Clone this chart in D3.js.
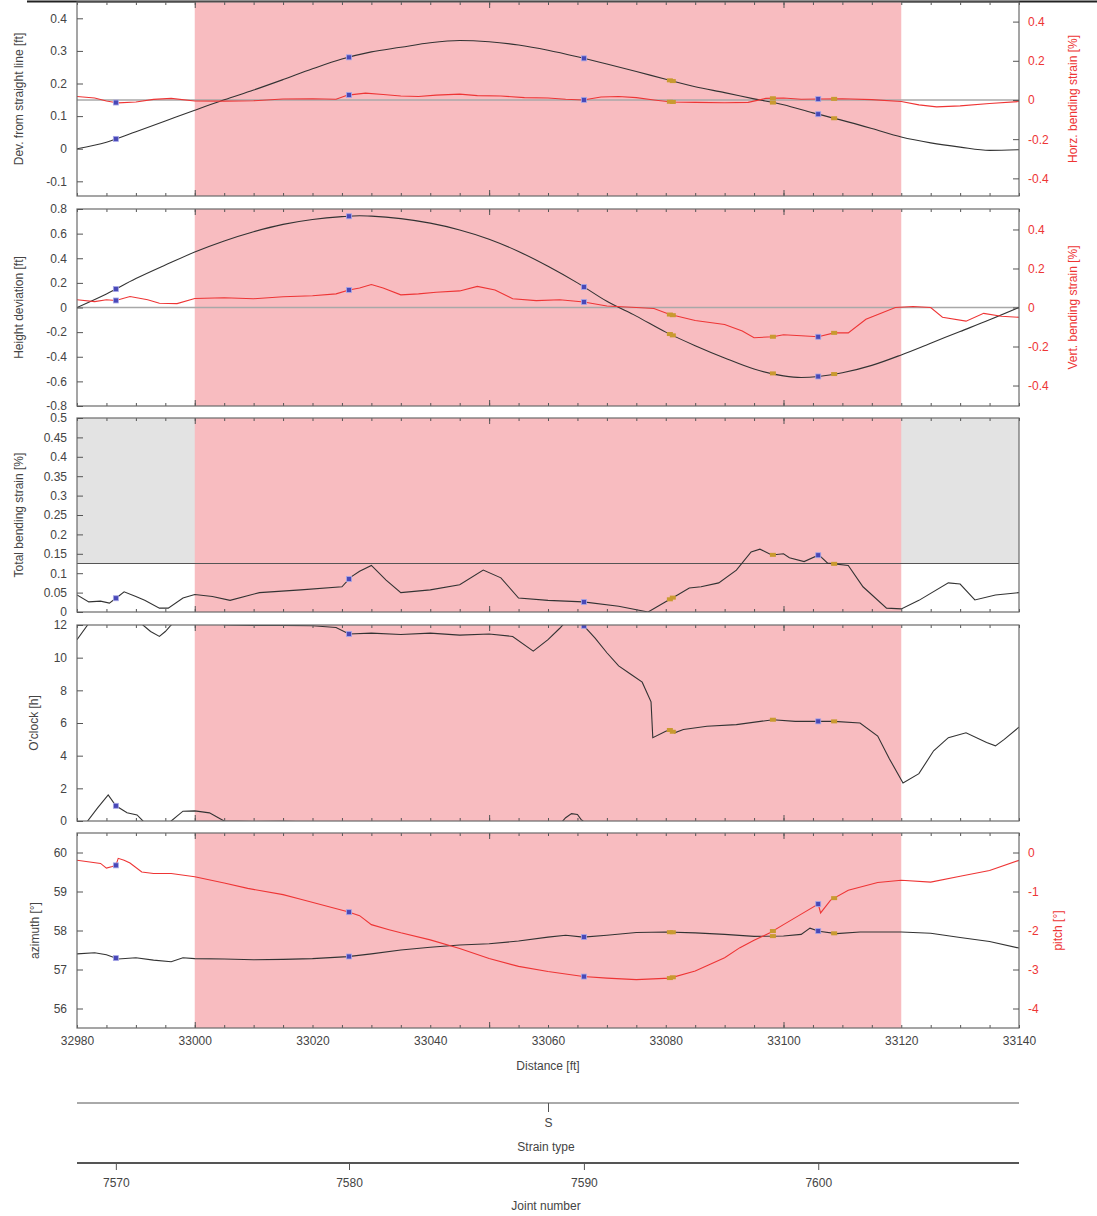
<html lang="en">
<head>
<style>
  body { margin: 0; background: #fff; }
  text { font-family: "Liberation Sans", Arial, sans-serif; font-size: 12px; fill: #444; }
</style>
</head>
<body>
<script src="https://d3js.org/d3.v7.min.js"></script>
<script>
// distance range and the marked zone
var distRange = [32980, 33140];
var zone = [33000, 33120];
var distTicks = [32980, 33000, 33020, 33040, 33060, 33080, 33100, 33120, 33140];

// joints, features, strain type
var jointNumbers = [7570, 7580, 7590, 7600];
var jointDist = [32986.6, 33026.2, 33066.1, 33105.9];
var featureDist = [33080.7, 33081.2, 33098.2, 33108.6];
var strainTypes = ["S"];
var strainDist = [33060];
var strainLimit = 0.125;

// panel 1: deviation from straight line [ft] and horizontal bending strain [%]
var devLine = [[32980,0],[32985,0.02],[32990,0.052],[32995,0.085],[33000,0.118],[33005,0.15],[33010,0.18],
  [33015,0.212],[33020,0.245],[33025,0.275],[33030,0.297],[33035,0.311],[33040,0.325],[33045,0.332],
  [33050,0.328],[33055,0.318],[33060,0.302],[33065,0.282],[33070,0.26],[33075,0.237],[33080,0.213],
  [33085,0.19],[33090,0.172],[33095,0.153],[33100,0.135],[33105,0.11],[33110,0.087],[33115,0.062],
  [33120,0.036],[33125,0.018],[33130,0.005],[33135,-0.005],[33140,-0.003]];
var horzStrain = [[32980,0.018],[32983,0.01],[32985,-0.005],[32987,-0.015],[32990,-0.01],[32993,0.003],
  [32996,0.008],[33000,-0.005],[33005,-0.006],[33010,-0.004],[33015,0.005],[33020,0.006],[33024,0.004],
  [33026,0.025],[33029,0.035],[33032,0.028],[33035,0.02],[33038,0.018],[33041,0.025],[33045,0.03],
  [33048,0.022],[33052,0.02],[33056,0.012],[33060,0.01],[33063,0.004],[33066,0.0],[33069,0.015],
  [33072,0.018],[33075,0.012],[33078,0.0],[33081,-0.01],[33085,-0.012],[33090,-0.014],[33094,-0.012],
  [33097,0.008],[33100,0.01],[33103,0.004],[33106,0.005],[33110,0.006],[33115,0.002],[33120,-0.008],
  [33123,-0.025],[33126,-0.035],[33130,-0.03],[33135,-0.018],[33140,-0.008]];

// panel 2: height deviation [ft] and vertical bending strain [%]
var heightDev = [[32980,0],[32985,0.11],[32990,0.235],[32995,0.345],[33000,0.45],[33005,0.54],[33010,0.615],
  [33015,0.675],[33020,0.715],[33025,0.738],[33028,0.745],[33030,0.742],[33035,0.722],[33040,0.685],
  [33045,0.63],[33050,0.555],[33055,0.455],[33060,0.335],[33065,0.2],[33070,0.05],[33075,-0.07],
  [33080,-0.2],[33085,-0.31],[33090,-0.41],[33095,-0.5],[33100,-0.555],[33103,-0.568],[33106,-0.56],
  [33110,-0.53],[33115,-0.47],[33120,-0.385],[33125,-0.29],[33130,-0.195],[33135,-0.1],[33140,0]];
var vertStrain = [[32980,0.04],[32983,0.03],[32985,0.04],[32986.6,0.036],[32989,0.056],[32992,0.04],
  [32994,0.022],[32997,0.02],[33000,0.046],[33005,0.05],[33010,0.045],[33015,0.055],[33020,0.06],
  [33024,0.07],[33026.2,0.09],[33028,0.1],[33030,0.118],[33032,0.1],[33035,0.065],[33038,0.07],
  [33041,0.078],[33045,0.085],[33048,0.108],[33051,0.09],[33054,0.045],[33058,0.035],[33062,0.04],
  [33066.1,0.028],[33070,0.008],[33075,0.0],[33078,-0.005],[33080.7,-0.036],[33082,-0.045],[33085,-0.067],
  [33090,-0.087],[33093,-0.12],[33095,-0.155],[33098.2,-0.15],[33100,-0.14],[33103,-0.145],
  [33105.9,-0.15],[33108.6,-0.13],[33111,-0.13],[33114,-0.06],[33119,0.0],[33122,0.005],[33125,0.0],
  [33127,-0.05],[33131,-0.07],[33134,-0.03],[33137,-0.045],[33140,-0.05]];

// panel 3: total bending strain [%]
var totalStrain = [[32980,0.044],[32982,0.026],[32984,0.028],[32985.5,0.023],[32987,0.04],[32988,0.052],
  [32990,0.04],[32991.5,0.03],[32994,0.01],[32995.5,0.01],[32998,0.036],[33000,0.045],[33003,0.04],
  [33006,0.03],[33011,0.05],[33018,0.057],[33025,0.065],[33026.5,0.09],[33028,0.105],[33030,0.12],
  [33032.5,0.082],[33035,0.05],[33040,0.057],[33045,0.07],[33049,0.108],[33052,0.088],[33055,0.036],
  [33060,0.03],[33066,0.026],[33072,0.015],[33077,0.0],[33080.5,0.031],[33082,0.044],[33084,0.062],
  [33086,0.065],[33089,0.075],[33092,0.108],[33094.5,0.155],[33096,0.162],[33098,0.147],[33100,0.15],
  [33101,0.14],[33103.5,0.13],[33106,0.147],[33107.5,0.126],[33111,0.12],[33113.5,0.065],[33117.5,0.01],
  [33120,0.008],[33123,0.03],[33128,0.075],[33130,0.072],[33132.5,0.031],[33136,0.044],[33140,0.05]];

// panel 4: o'clock [h], unwrapped (values past 12 wrap to the bottom)
var oclock = [[32980,11.1],[32981.8,12.0],[32983.5,12.8],[32985.3,13.6],[32986.6,12.93],[32988.5,12.5],
  [32990.2,12.37],[32991.2,12.0],[32992.5,11.6],[32994,11.3],[32995,11.6],[32996,12.0],[32998,12.6],
  [33000,12.62],[33002.5,12.5],[33004,12.2],[33005,12.0],[33010,11.97],[33015,11.98],[33020,11.95],
  [33024,11.85],[33026.2,11.45],[33030,11.5],[33035,11.42],[33040,11.5],[33045,11.38],[33050,11.45],
  [33054,11.3],[33057.5,10.4],[33060,11.1],[33062,11.8],[33063,12.2],[33064,12.45],[33065,12.4],
  [33065.6,12.1],[33066.1,11.95],[33068,11.2],[33070,10.3],[33072,9.5],[33074,9.0],[33076,8.5],
  [33077.5,7.3],[33077.8,5.1],[33080,5.5],[33080.7,5.57],[33081.5,5.4],[33083,5.6],[33087,5.8],
  [33092,5.9],[33098.2,6.2],[33102,6.1],[33105.9,6.1],[33108.6,6.1],[33113,6.0],[33116,5.2],
  [33118,3.8],[33120.3,2.33],[33123,2.9],[33125.5,4.3],[33128,5.1],[33131,5.4],[33134.5,4.8],
  [33136,4.6],[33137.5,5.0],[33140,5.75]];

// panel 5: azimuth [deg] and pitch [deg]
var azimuth = [[32980,57.4],[32983,57.43],[32985,57.38],[32987,57.27],[32990,57.3],[32993,57.24],
  [32996,57.2],[32998,57.3],[33000,57.28],[33005,57.27],[33010,57.25],[33015,57.26],[33020,57.28],
  [33026,57.33],[33030,57.4],[33035,57.5],[33040,57.57],[33045,57.63],[33050,57.66],[33055,57.73],
  [33060,57.83],[33063,57.88],[33066,57.83],[33070,57.88],[33075,57.95],[33080,57.96],[33085,57.94],
  [33090,57.9],[33095,57.85],[33100,57.86],[33103,57.9],[33104.5,58.06],[33106,57.98],[33109,57.92],
  [33113,57.96],[33120,57.96],[33125,57.93],[33130,57.82],[33135,57.72],[33140,57.55]];
var pitch = [[32980,-0.2],[32984,-0.28],[32985,-0.4],[32986,-0.36],[32986.6,-0.33],[32987,-0.15],
  [32988,-0.2],[32989,-0.27],[32991,-0.5],[32993,-0.54],[32996,-0.54],[33000,-0.62],[33005,-0.78],
  [33009,-0.92],[33015,-1.08],[33018,-1.2],[33022,-1.36],[33026,-1.52],[33028,-1.62],[33030,-1.85],
  [33033,-1.98],[33035,-2.06],[33040,-2.24],[33045,-2.46],[33050,-2.72],[33055,-2.92],[33060,-3.05],
  [33066,-3.18],[33070,-3.22],[33075,-3.26],[33080.7,-3.22],[33085,-3.04],[33090,-2.7],[33092.6,-2.44],
  [33095,-2.25],[33097.7,-2.06],[33100,-1.85],[33102.8,-1.6],[33105.9,-1.32],[33106.3,-1.55],
  [33108,-1.22],[33111,-0.97],[33116,-0.77],[33120,-0.71],[33125,-0.76],[33130,-0.61],[33135,-0.46],
  [33140,-0.2]];

var width = 1097, height = 1216;
var red = "#ee3535", black = "#333", pink = "#f8bcc0";
var x = d3.scaleLinear().domain(distRange).range([77, 1019]);

var svg = d3.select("body").append("svg").attr("width", width).attr("height", height);
var defs = svg.append("defs");

svg.append("line").attr("x1", 27).attr("x2", 1097).attr("y1", 1.5).attr("y2", 1.5)
  .attr("stroke", "#222").attr("stroke-width", 2);

function valueAt(series, d) {
  var i = d3.bisectLeft(series.map(function(p) { return p[0]; }), d);
  if (i <= 0) return series[0][1];
  if (i >= series.length) return series[series.length - 1][1];
  var a = series[i - 1], b = series[i];
  return a[1] + (b[1] - a[1]) * (d - a[0]) / (b[0] - a[0]);
}

function fmt(d) { return String(d); }

function addPanel(id, top, bottom, domL) {
  var p = {top: top, bottom: bottom};
  p.y = d3.scaleLinear().domain(domL).range([bottom, top]);
  defs.append("clipPath").attr("id", id).append("rect")
    .attr("x", x.range()[0]).attr("y", top).attr("width", x.range()[1] - x.range()[0]).attr("height", bottom - top);
  p.g = svg.append("g");
  p.plot = p.g.append("g").attr("clip-path", "url(#" + id + ")");
  p.back = p.plot.append("g");
  p.back.append("rect").attr("x", x(zone[0])).attr("width", x(zone[1]) - x(zone[0]))
    .attr("y", top).attr("height", bottom - top).attr("fill", pink);
  return p;
}

function drawLine(p, data, yScale, color, curve, offset) {
  offset = offset || 0;
  p.plot.append("path").datum(data)
    .attr("fill", "none").attr("stroke", color).attr("stroke-width", 1.1)
    .attr("d", d3.line().curve(curve || d3.curveLinear)
      .x(function(d) { return x(d[0]); })
      .y(function(d) { return yScale(d[1] + offset); }));
}

function drawMarkers(p, data, yScale, wrap) {
  var pts = jointDist.map(function(d) { return {d: d, kind: "j"}; })
    .concat(featureDist.map(function(d) { return {d: d, kind: "f"}; }));
  pts.forEach(function(m) {
    var v = valueAt(data, m.d);
    if (wrap) v = ((v % 12) + 12) % 12;
    if (m.kind === "j") {
      p.plot.append("rect").attr("x", x(m.d) - 2.5).attr("y", yScale(v) - 2.5)
        .attr("width", 5).attr("height", 5).attr("fill", "#4848b8").attr("stroke", "#a8a8e8").attr("stroke-width", 0.8);
    } else {
      p.plot.append("rect").attr("x", x(m.d) - 3).attr("y", yScale(v) - 2)
        .attr("width", 6).attr("height", 4).attr("fill", "#c99a30");
    }
  });
}

function finishPanel(p, ticksL, titleL, titleX, yR, ticksR, titleR, titleRX, bottomLabels) {
  var minor = d3.range(distRange[0], distRange[1] + 1, 5);
  var major = [33000, 33050, 33100];
  [[p.top, d3.axisTop], [p.bottom, d3.axisBottom]].forEach(function(a) {
    p.g.append("g").attr("transform", "translate(0," + a[0] + ")")
      .call(a[1](x).tickValues(minor).tickSize(-3).tickFormat(""))
      .call(function(s) { s.select(".domain").remove(); s.selectAll("line").attr("stroke", "#555"); });
    p.g.append("g").attr("transform", "translate(0," + a[0] + ")")
      .call(a[1](x).tickValues(major).tickSize(-6).tickFormat(""))
      .call(function(s) { s.select(".domain").remove(); s.selectAll("line").attr("stroke", "#555"); });
  });
  p.g.append("rect").attr("x", x.range()[0]).attr("y", p.top)
    .attr("width", x.range()[1] - x.range()[0]).attr("height", p.bottom - p.top)
    .attr("fill", "none").attr("stroke", "#6a6a6a").attr("stroke-width", 1.2);

  p.g.append("g").attr("transform", "translate(" + x.range()[0] + ",0)")
    .call(d3.axisLeft(p.y).tickValues(ticksL).tickSize(-6).tickPadding(10).tickFormat(fmt))
    .call(function(s) {
      s.select(".domain").remove();
      s.selectAll("line").attr("stroke", "#555");
      s.selectAll("text").attr("font-size", 12.5).style("fill", "#444").attr("font-family", null);
    });
  p.g.append("text").attr("transform", "translate(" + titleX + "," + (p.top + p.bottom) / 2 + ") rotate(-90)")
    .attr("text-anchor", "middle").attr("dy", "0.35em").text(titleL);

  if (yR) {
    p.g.append("g").attr("transform", "translate(" + x.range()[1] + ",0)")
      .call(d3.axisRight(yR).tickValues(ticksR).tickSize(-6).tickPadding(9).tickFormat(fmt))
      .call(function(s) {
        s.select(".domain").remove();
        s.selectAll("line").attr("stroke", "#555");
        s.selectAll("text").attr("font-size", 12.5).style("fill", red).attr("font-family", null);
      });
    p.g.append("text").attr("transform", "translate(" + titleRX + "," + (p.top + p.bottom) / 2 + ") rotate(-90)")
      .attr("text-anchor", "middle").attr("dy", "0.35em").style("fill", red).text(titleR);
  }
  if (bottomLabels) {
    p.g.append("g").attr("transform", "translate(0," + p.bottom + ")")
      .call(d3.axisBottom(x).tickValues(distTicks).tickSize(0).tickPadding(8).tickFormat(fmt))
      .call(function(s) {
        s.select(".domain").remove();
        s.selectAll("text").attr("font-size", 12.5).style("fill", "#444").attr("font-family", null);
      });
  }
}

// panel 1
var p1 = addPanel("c1", 2, 196, [-0.145, 0.45]);
var y1r = d3.scaleLinear().domain([-0.49, 0.5]).range([196, 2]);
p1.back.append("line").attr("x1", 77).attr("x2", 1019).attr("y1", y1r(0)).attr("y2", y1r(0))
  .attr("stroke", "#a8a8a8").attr("stroke-width", 1.5);
drawLine(p1, devLine, p1.y, black, d3.curveMonotoneX);
drawLine(p1, horzStrain, y1r, red);
drawMarkers(p1, devLine, p1.y);
drawMarkers(p1, horzStrain, y1r);
finishPanel(p1, [-0.1, 0, 0.1, 0.2, 0.3, 0.4], "Dev. from straight line [ft]", 19,
  y1r, [-0.4, -0.2, 0, 0.2, 0.4], "Horz. bending strain [%]", 1073);

// panel 2
var p2 = addPanel("c2", 209, 406, [-0.8, 0.8]);
var y2r = d3.scaleLinear().domain([-0.505, 0.505]).range([406, 209]);
p2.back.append("line").attr("x1", 77).attr("x2", 1019).attr("y1", y2r(0)).attr("y2", y2r(0))
  .attr("stroke", "#a8a8a8").attr("stroke-width", 1.5);
drawLine(p2, heightDev, p2.y, black, d3.curveMonotoneX);
drawLine(p2, vertStrain, y2r, red);
drawMarkers(p2, heightDev, p2.y);
drawMarkers(p2, vertStrain, y2r);
finishPanel(p2, [-0.8, -0.6, -0.4, -0.2, 0, 0.2, 0.4, 0.6, 0.8], "Height deviation [ft]", 19,
  y2r, [-0.4, -0.2, 0, 0.2, 0.4], "Vert. bending strain [%]", 1073);

// panel 3
var p3 = addPanel("c3", 418, 612, [0, 0.5]);
p3.back.insert("rect", ":first-child").attr("x", 77).attr("width", 942)
  .attr("y", p3.y(0.5)).attr("height", p3.y(strainLimit) - p3.y(0.5)).attr("fill", "#e3e3e3");
p3.back.append("line").attr("x1", 77).attr("x2", 1019).attr("y1", p3.y(strainLimit)).attr("y2", p3.y(strainLimit))
  .attr("stroke", "#555").attr("stroke-width", 1);
drawLine(p3, totalStrain, p3.y, black);
drawMarkers(p3, totalStrain, p3.y);
finishPanel(p3, [0, 0.05, 0.1, 0.15, 0.2, 0.25, 0.3, 0.35, 0.4, 0.45, 0.5], "Total bending strain [%]", 19);

// panel 4 (wrapping clock values)
var p4 = addPanel("c4", 625, 821, [0, 12]);
[-12, 0, 12].forEach(function(off) { drawLine(p4, oclock, p4.y, black, null, off); });
drawMarkers(p4, oclock, p4.y, true);
finishPanel(p4, [0, 2, 4, 6, 8, 10, 12], "O'clock [h]", 34);

// panel 5
var p5 = addPanel("c5", 833, 1028, [55.5, 60.5]);
var y5r = d3.scaleLinear().domain([-4.5, 0.5]).range([1028, 833]);
drawLine(p5, azimuth, p5.y, black);
drawLine(p5, pitch, y5r, red);
drawMarkers(p5, azimuth, p5.y);
drawMarkers(p5, pitch, y5r);
finishPanel(p5, [56, 57, 58, 59, 60], "azimuth [°]", 35,
  y5r, [-4, -3, -2, -1, 0], "pitch [°]", 1058, true);

svg.append("text").attr("x", 548).attr("y", 1070).attr("text-anchor", "middle").text("Distance [ft]");

// strain type axis
var strainY = 1103;
svg.append("line").attr("x1", 77).attr("x2", 1019).attr("y1", strainY).attr("y2", strainY)
  .attr("stroke", "#555").attr("stroke-width", 1);
svg.append("g").attr("transform", "translate(0," + strainY + ")")
  .call(d3.axisBottom(x).tickValues(strainDist).tickSize(9).tickPadding(6)
    .tickFormat(function(d, i) { return strainTypes[i]; }))
  .call(function(s) {
    s.select(".domain").remove();
    s.selectAll("line").attr("stroke", "#555");
    s.selectAll("text").attr("font-size", 12.5).style("fill", "#444").attr("font-family", null);
  });
svg.append("text").attr("x", 546).attr("y", 1151).attr("text-anchor", "middle").text("Strain type");

// joint number axis
var jointY = 1163;
svg.append("line").attr("x1", 77).attr("x2", 1019).attr("y1", jointY).attr("y2", jointY)
  .attr("stroke", "#555").attr("stroke-width", 2);
svg.append("g").attr("transform", "translate(0," + jointY + ")")
  .call(d3.axisBottom(x).tickValues(jointDist).tickSize(7).tickPadding(8)
    .tickFormat(function(d, i) { return jointNumbers[i]; }))
  .call(function(s) {
    s.select(".domain").remove();
    s.selectAll("line").attr("stroke", "#555");
    s.selectAll("text").attr("font-size", 12).style("fill", "#444").attr("font-family", null);
  });
svg.append("text").attr("x", 546).attr("y", 1210).attr("text-anchor", "middle").text("Joint number");
</script>
</body>
</html>
